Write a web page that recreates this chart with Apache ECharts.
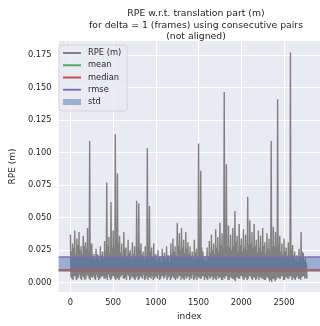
<!DOCTYPE html>
<html>
<head>
<meta charset="utf-8">
<script src="https://cdn.jsdelivr.net/npm/echarts@6/dist/echarts.min.js"></script>
<style>
html,body{margin:0;padding:0;background:#ffffff;}
#chart{width:320px;height:326px;}
</style>
</head>
<body>
<div id="chart"></div>
<script>
// ---- data ----
const titleText = 'RPE w.r.t. translation part (m)\nfor delta = 1 (frames) using consecutive pairs\n(not aligned)';
const frameStep = 25; // frames between samples of each array
// tallest value in each 25-frame block (index i*25)
const rpeHigh = [
  0.037,0.030,0.040,0.034,0.039,0.028,0.036,0.031,0.042,0.109,
  0.030,0.022,0.026,0.021,0.028,0.024,0.032,0.077,0.035,0.062,
  0.040,0.114,0.084,0.036,0.030,0.039,0.027,0.033,0.025,0.031,
  0.028,0.063,0.061,0.030,0.024,0.028,0.1035,0.059,0.027,0.030,
  0.022,0.025,0.020,0.026,0.023,0.028,0.021,0.030,0.034,0.028,
  0.046,0.038,0.042,0.033,0.039,0.031,0.028,0.024,0.033,0.026,
  0.107,0.086,0.024,0.020,0.027,0.032,0.037,0.030,0.041,0.035,
  0.046,0.038,0.1465,0.091,0.044,0.037,0.042,0.055,0.036,0.045,
  0.034,0.041,0.037,0.066,0.048,0.039,0.045,0.033,0.040,0.036,
  0.042,0.031,0.038,0.034,0.109,0.043,0.039,0.141,0.036,0.030,
  0.034,0.027,0.031,0.177,0.029,0.024,0.021,0.026,0.039,0.023,
  0.019
];
// low value after the peak (index i*25+6)
const rpeLow = [
  0.004,0.002,0.005,0.003,0.006,0.002,0.004,0.003,0.005,0.002,
  0.004,0.003,0.006,0.002,0.004,0.005,0.003,0.002,0.004,0.003,
  0.005,0.002,0.003,0.004,0.006,0.003,0.002,0.005,0.003,0.004,
  0.002,0.005,0.003,0.004,0.006,0.003,0.002,0.004,0.005,0.003,
  0.004,0.006,0.003,0.005,0.004,0.002,0.005,0.003,0.004,0.002,
  0.003,0.005,0.004,0.002,0.003,0.005,0.004,0.006,0.003,0.002,
  0.004,0.003,0.005,0.004,0.002,0.003,0.005,0.004,0.002,0.003,
  0.004,0.002,0.003,0.005,0.002,0.004,0.003,0.001,0.004,0.003,
  0.005,0.002,0.004,0.003,0.005,0.002,0.004,0.003,0.002,0.004,
  0.003,0.002,0.004,0.001,0.0005,0.003,0.002,0.004,0.003,0.005,
  0.002,0.004,0.003,0.005,0.004,0.002,0.005,0.003,0.004,0.005,
  0.004
];
// mid-block value (index i*25+12)
const rpeMid = [
  0.024,0.027,0.021,0.029,0.025,0.022,0.028,0.026,0.023,0.030,
  0.020,0.018,0.022,0.017,0.021,0.019,0.024,0.028,0.022,0.026,
  0.027,0.024,0.030,0.023,0.021,0.026,0.019,0.023,0.018,0.022,
  0.020,0.027,0.025,0.021,0.017,0.020,0.026,0.024,0.019,0.021,
  0.017,0.019,0.016,0.020,0.018,0.021,0.016,0.022,0.024,0.020,
  0.028,0.025,0.027,0.023,0.026,0.022,0.020,0.018,0.023,0.019,
  0.025,0.027,0.018,0.016,0.020,0.023,0.025,0.022,0.027,0.024,
  0.029,0.026,0.030,0.028,0.027,0.025,0.028,0.031,0.024,0.029,
  0.024,0.027,0.025,0.029,0.030,0.026,0.028,0.023,0.027,0.024,
  0.028,0.022,0.026,0.024,0.027,0.028,0.026,0.029,0.024,0.021,
  0.024,0.019,0.022,0.025,0.021,0.018,0.016,0.019,0.024,0.017,
  0.015
];
// second low value (index i*25+19)
const rpeLow2 = [
  0.003,0.005,0.002,0.004,0.003,0.005,0.002,0.006,0.003,0.004,
  0.005,0.002,0.004,0.003,0.005,0.003,0.004,0.006,0.002,0.005,
  0.003,0.004,0.002,0.005,0.003,0.004,0.006,0.002,0.005,0.003,
  0.004,0.002,0.005,0.003,0.002,0.005,0.004,0.003,0.002,0.005,
  0.003,0.002,0.005,0.003,0.006,0.004,0.002,0.005,0.003,0.004,
  0.005,0.002,0.003,0.005,0.004,0.002,0.003,0.002,0.005,0.004,
  0.003,0.005,0.002,0.003,0.005,0.004,0.002,0.003,0.005,0.004,
  0.002,0.004,0.005,0.002,0.004,0.003,0.002,0.004,0.003,0.005,
  0.003,0.004,0.002,0.005,0.003,0.004,0.002,0.005,0.004,0.003,
  0.002,0.004,0.003,0.002,0.003,0.001,0.004,0.003,0.005,0.002,
  0.004,0.003,0.005,0.002,0.003,0.004,0.003,0.002,0.005,0.003,
  0.003
];
const statNames = ['mean','median','rmse'];
const statValues = [0.0141, 0.0117, 0.0184];
const stdValue = 0.0118;
const xTicks = [0,500,1000,1500,2000,2500];
const yTicks = [0,0.025,0.05,0.075,0.1,0.125,0.15,0.175];

// ---- build ----
const rpeData = [];
for (let i = 0; i < rpeHigh.length; i++) {
  const base = i * frameStep;
  rpeData.push([base, rpeHigh[i]]);
  rpeData.push([base + 6, rpeLow[i]]);
  rpeData.push([base + 12, rpeMid[i]]);
  rpeData.push([base + 19, rpeLow2[i]]);
}
const statColors = {mean:'#55A868', median:'#C44E52', rmse:'#8172B2'};
const stdColor = 'rgba(76,114,176,0.5)';
const txt = '#262626';
const font = 'DejaVu Sans';
const hiddenSymbol = {opacity: 0};

const series = [{
  name: 'RPE (m)', type: 'line', data: rpeData, symbol: 'none', showSymbol: false,
  color: '#808080', lineStyle: {color: '#808080', width: 1.4}, z: 2, animation: false
}];
statNames.forEach((n, k) => {
  series.push({
    name: n, type: 'line', data: [], symbol: 'none', color: statColors[n],
    lineStyle: {color: statColors[n], width: 1.5}, z: 4, animation: false,
    markLine: {symbol: 'none', silent: true, animation: false, z: 5, label: {show: false},
      lineStyle: {color: statColors[n], width: 1.5, type: 'solid'},
      data: [{yAxis: statValues[k]}]}
  });
});
const meanVal = statValues[0];
series.push({
  name: 'std', type: 'line', data: [], symbol: 'none', color: stdColor, z: 3, animation: false,
  markArea: {silent: true, animation: false, z: 3, itemStyle: {color: stdColor},
    data: [[{yAxis: meanVal - stdValue / 2}, {yAxis: meanVal + stdValue / 2}]]}
});

const chart = echarts.init(document.getElementById('chart'), null, {renderer: 'canvas'});
chart.setOption({
  animation: false,
  backgroundColor: '#ffffff',
  textStyle: {fontFamily: font, color: txt},
  title: {
    text: titleText, left: 191, top: 3, textAlign: 'center',
    textStyle: {fontFamily: font, fontSize: 9.3, fontWeight: 'normal', color: txt, lineHeight: 11.5}
  },
  legend: {
    orient: 'vertical', left: 59, top: 45,
    padding: [3, 6, 4, 3], itemGap: 2.25, itemWidth: 18, itemHeight: 6,
    backgroundColor: 'rgba(234,234,242,0.8)', borderColor: '#d3d3da', borderWidth: 1, borderRadius: 3,
    textStyle: {fontFamily: font, fontSize: 8.3, color: txt, lineHeight: 10, padding: [0,0,0,2]},
    data: [
      {name: 'RPE (m)', itemStyle: hiddenSymbol},
      {name: 'mean', itemStyle: hiddenSymbol},
      {name: 'median', itemStyle: hiddenSymbol},
      {name: 'rmse', itemStyle: hiddenSymbol},
      {name: 'std', icon: 'rect'}
    ]
  },
  grid: {left: 55, top: 41, width: 272, height: 251.7, show: true, backgroundColor: '#EAEAF2', borderWidth: 0},
  xAxis: {
    type: 'value', min: -138, max: 2921,
    name: 'index', nameLocation: 'middle', nameGap: 20,
    nameTextStyle: {fontFamily: font, fontSize: 9, color: txt},
    axisLine: {show: false}, axisTick: {show: false, customValues: xTicks},
    axisLabel: {customValues: xTicks, margin: 7, fontFamily: font, fontSize: 8.3, color: txt,
      formatter: v => String(v)},
    splitLine: {show: true, lineStyle: {color: '#ffffff', width: 1}}
  },
  yAxis: {
    type: 'value', min: -0.0072, max: 0.1858,
    name: 'RPE (m)', nameLocation: 'middle', nameGap: 38, nameRotate: 90,
    nameTextStyle: {fontFamily: font, fontSize: 9, color: txt},
    axisLine: {show: false}, axisTick: {show: false, customValues: yTicks},
    axisLabel: {customValues: yTicks, margin: 7, fontFamily: font, fontSize: 8.3, color: txt,
      formatter: v => v.toFixed(3)},
    splitLine: {show: true, lineStyle: {color: '#ffffff', width: 1}}
  },
  series: series
});
</script>
</body>
</html>
